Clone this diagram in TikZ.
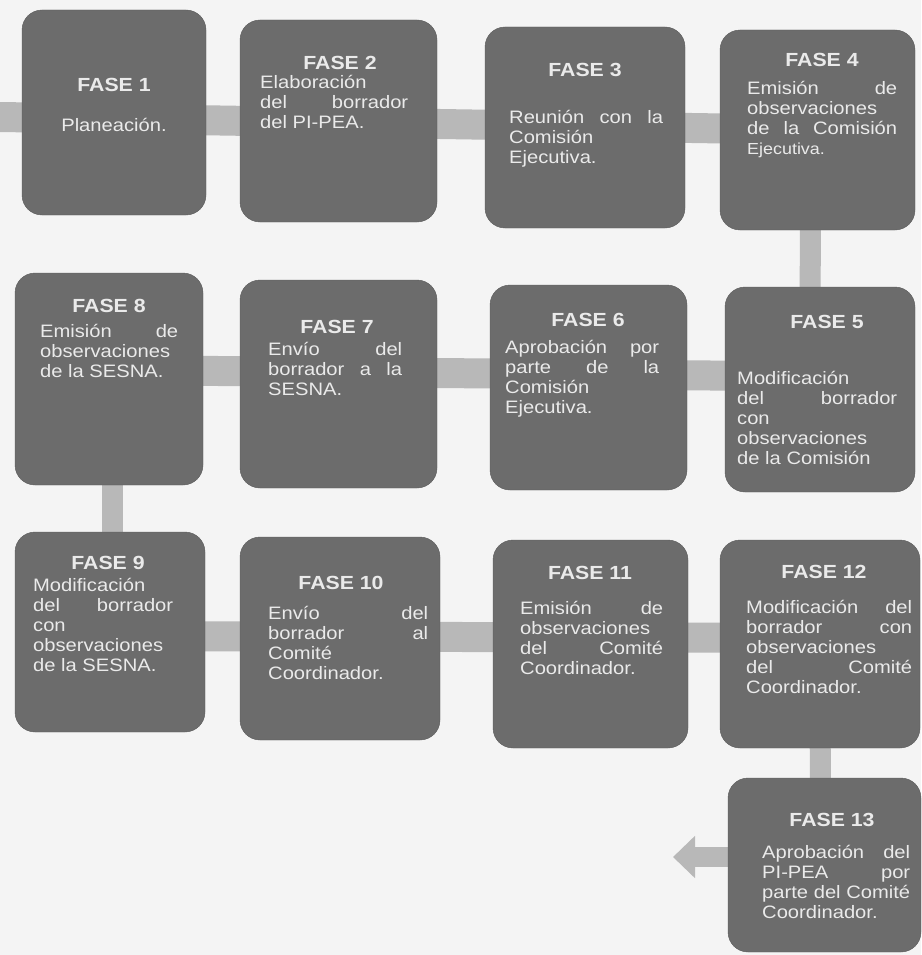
\documentclass[tikz,border=0pt]{standalone}
\usepackage{fontspec}
\setmainfont{Liberation Sans}[FakeStretch=1.12]
\usetikzlibrary{arrows.meta}
\definecolor{caja}{HTML}{6C6C6C}
\definecolor{borde}{HTML}{5C5C5C}
\definecolor{barra}{HTML}{B8B8B8}
\definecolor{letra}{HTML}{EAEAEA}
\definecolor{papel}{HTML}{F4F4F4}
\pgfdeclarelayer{fondo}
\pgfdeclarelayer{barras}
\pgfsetlayers{fondo,barras,main}
\tolerance=10000 \hbadness=10000 \hyphenpenalty=10000

\begin{document}
\begin{tikzpicture}[x=1pt,y=-1pt,
    fasebox/.style={draw=borde,fill=caja,rounded corners=20pt,inner sep=0pt,outer sep=0pt},
    fasetitulo/.style={text=letra,inner sep=0pt,font=\fontsize{19}{20}\selectfont\bfseries},
    fasetexto/.style={text=letra,inner sep=0pt,anchor=north west,align=justify,font=\fontsize{18}{20}\selectfont},
    hbar/.style={draw=barra,line width=30pt},
    vbar/.style={draw=barra,line width=21pt}]
            \useasboundingbox (0,0) rectangle (921,955);
            \begin{pgfonlayer}{fondo}
            \fill[papel] (0,0) rectangle (921,955);
            \end{pgfonlayer}
            \foreach \n/\xa/\ya/\xb/\yb in {1/22/10/206/215, 2/240/20/437/222, 3/485/27/685/228,
                4/720/30/915/230, 5/725/287/915/492, 6/490/285/687/490, 7/240/280/437/488,
                8/15/273/203/485, 9/15/532/205/732, 10/240/537/440/740, 11/493/540/688/748,
                12/720/540/920/748, 13/728/778/921/952} % edit here for the boxes
            \node[fasebox,minimum width={(\xb-\xa)*1pt},minimum height={(\yb-\ya)*1pt}]
                (f\n) at ({(\xa+\xb)/2},{(\ya+\yb)/2}) {};
            \foreach \n/\x/\y in {1/114/85, 2/340/63, 3/585/70, 4/822/60, 5/827/322, 6/588/320,
                7/337/327, 8/109/306, 9/108/563, 10/341/583, 11/590/573, 12/824/572, 13/832/820} % edit here for the titles
            \node[fasetitulo] (t\n) at (\x,\y) {FASE \n};
            \node[fasetexto,anchor=center,align=center] (d1) at (114,125) {Planeación.};
            \node[fasetexto,text width=148pt] (d2) at (260,74) {\strut Elaboración\linebreak del borrador\linebreak del PI-PEA.};
            \node[fasetexto,text width=154pt] (d3) at (509,109) {\strut Reunión con la\linebreak Comisión\linebreak Ejecutiva.};
            \node[fasetexto,text width=150pt] (d4) at (747,80) {\strut Emisión de\linebreak observaciones\linebreak de la Comisión\linebreak {\fontsize{16}{20}\selectfont Ejecutiva.}};
            \node[fasetexto,text width=160pt] (d5) at (737,370) {\strut Modificación\linebreak del borrador\linebreak con\linebreak observaciones\linebreak de la Comisión};
            \node[fasetexto,text width=154pt] (d6) at (505,339) {\strut Aprobación por\linebreak parte de la\linebreak Comisión\linebreak Ejecutiva.};
            \node[fasetexto,text width=134pt] (d7) at (268,341) {\strut Envío del\linebreak borrador a la\linebreak SESNA.};
            \node[fasetexto,text width=138pt] (d8) at (40,323) {\strut Emisión de\linebreak observaciones\linebreak de la SESNA.};
            \node[fasetexto,text width=140pt] (d9) at (33,577) {\strut Modificación\linebreak del borrador\linebreak con\linebreak observaciones\linebreak de la SESNA.};
            \node[fasetexto,text width=160pt] (d10) at (268,605) {\strut Envío del\linebreak borrador al\linebreak Comité\linebreak Coordinador.};
            \node[fasetexto,text width=143pt] (d11) at (520,600) {\strut Emisión de\linebreak observaciones\linebreak del Comité\linebreak Coordinador.};
            \node[fasetexto,text width=166pt] (d12) at (746,599) {\strut Modificación del\linebreak borrador con\linebreak observaciones\linebreak del Comité\linebreak Coordinador.};
            \node[fasetexto,text width=148pt] (d13) at (762,844) {\strut Aprobación del\linebreak PI-PEA por\linebreak parte del Comité\linebreak Coordinador.};
            \coordinate (inicio) at (0,117);
            \coordinate (salida) at (673,857);
            \begin{pgfonlayer}{barras}
            \draw[hbar] (inicio) -- (f4.center); % first row
            \draw[vbar] ([xshift=-7pt]f4.center) -- ([xshift=-10pt]f5.center);
            \draw[hbar] ([yshift=13pt]f5.center) -- ([yshift=9pt]f8.center); % second row
            \draw[vbar] ([xshift=3pt]f8.center) -- ([xshift=2pt]f9.center);
            \draw[hbar] ([yshift=-4pt]f9.center) -- ([yshift=6pt]f12.center); % third row
            \draw[vbar] (f12.center) -- ([xshift=-4pt]f13.center);
            \draw[barra,line width=20pt,-{Triangle[length=22pt,width=41pt]}] ([yshift=8pt]f13.west) -- (salida);
            \end{pgfonlayer}
            \end{tikzpicture}
\end{document}
